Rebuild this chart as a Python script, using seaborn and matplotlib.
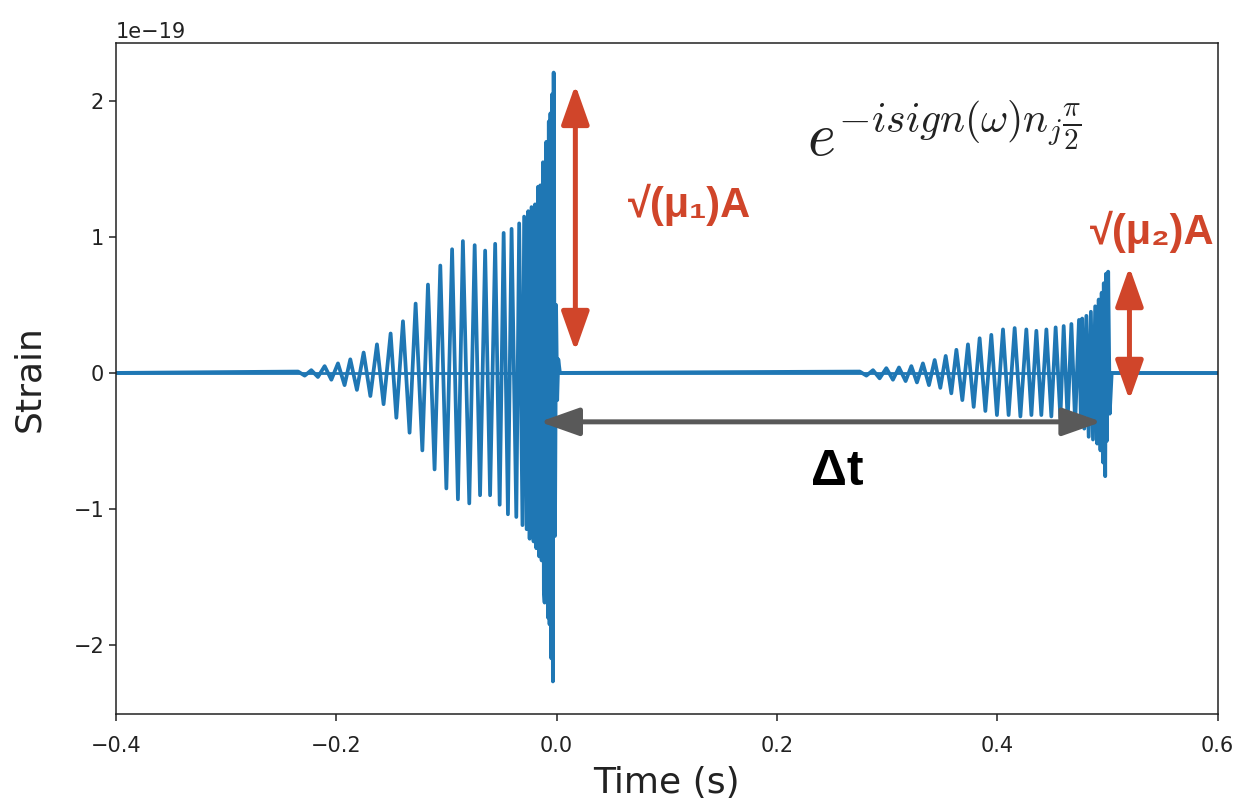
import numpy as np
import pandas as pd
import matplotlib
matplotlib.use("Agg")
import matplotlib.pyplot as plt
import seaborn as sns

# ---------------- data (strain in units of 1e-19) ----------------
# first (stronger) image: alternating extrema of the chirp
chirp1_t = [-0.2347, -0.2287, -0.2227, -0.2167, -0.2106, -0.2045, -0.1985, -0.1925, -0.1873,
            -0.1813, -0.1752, -0.1691, -0.1631, -0.1571, -0.1507, -0.1455, -0.1395, -0.1335,
            -0.1280, -0.1219, -0.1168, -0.1108, -0.1056, -0.1001, -0.0949, -0.0896, -0.0851,
            -0.0793, -0.0744, -0.0695, -0.0649, -0.0604, -0.0558, -0.0517, -0.0481, -0.0442,
            -0.0409, -0.0366, -0.0340, -0.0310, -0.0295, -0.0272, -0.0258, -0.0245, -0.0228,
            -0.0209, -0.0196, -0.0184, -0.0168, -0.0158, -0.0148, -0.0136, -0.0124, -0.0116,
            -0.0109, -0.0094, -0.0079, -0.0071, -0.0064, -0.0056, -0.0048, -0.0041, -0.0034,
            -0.0027, -0.0015, -0.0005, 0.0005, 0.0015, 0.0030]
chirp1_h = [0.01, -0.02, 0.02, -0.03, 0.05, -0.05, 0.07, -0.09, 0.10,
            -0.125, 0.15, -0.17, 0.21, -0.23, 0.29, -0.33, 0.38, -0.44,
            0.51, -0.57, 0.65, -0.71, 0.79, -0.85, 0.91, -0.93, 0.97,
            -0.96, 0.94, -0.90, 0.90, -0.90, 0.95, -0.97, 1.03, -1.04,
            1.06, -1.06, 1.10, -1.12, 1.15, -1.15, 1.19, -1.22, 1.22,
            -1.24, 1.24, -1.29, 1.37, -1.35, 1.38, -1.38, 1.55, -1.60,
            -1.69, 1.70, -1.80, 1.85, -1.85, 1.91, -2.10, 2.05, -2.27,
            2.21, -1.20, 0.50, -0.20, 0.10, 0.00]

# second (weaker, delayed, phase-shifted) image
chirp2_t = [0.2752, 0.2812, 0.2872, 0.2932, 0.2993, 0.3053, 0.3108, 0.3168, 0.3220, 0.3271,
            0.3325, 0.3380, 0.3432, 0.3483, 0.3532, 0.3583, 0.3629, 0.3683, 0.3734, 0.3786,
            0.3840, 0.3892, 0.3946, 0.3997, 0.4052, 0.4103, 0.4158, 0.4210, 0.4264, 0.4310,
            0.4355, 0.4400, 0.4446, 0.4491, 0.4530, 0.4573, 0.4603, 0.4639, 0.4673, 0.4707,
            0.4742, 0.4760, 0.4771, 0.4790, 0.4809, 0.4830, 0.4850, 0.4869, 0.4889, 0.4907,
            0.4921, 0.4937, 0.4948, 0.4962, 0.4967, 0.4980, 0.4988, 0.4995, 0.5007, 0.5021,
            0.5039]
chirp2_h = [0.01, -0.02, 0.02, -0.04, 0.035, -0.05, 0.04, -0.06, 0.05, -0.07,
            0.07, -0.09, 0.095, -0.11, 0.125, -0.15, 0.17, -0.20, 0.21, -0.25,
            0.255, -0.28, 0.28, -0.31, 0.32, -0.31, 0.33, -0.32, 0.32, -0.31,
            0.31, -0.31, 0.32, -0.32, 0.335, -0.33, 0.345, -0.35, 0.36, -0.37,
            0.39, -0.39, 0.40, -0.41, 0.42, -0.47, 0.45, -0.49, 0.49, -0.52,
            0.54, -0.57, 0.59, -0.66, 0.66, -0.76, 0.73, -0.50, 0.745, -0.30,
            0.00]

t_start, t_end = -0.4, 0.6
scale = 1e-19

xticks = [-0.4, -0.2, 0.0, 0.2, 0.4, 0.6]
yticks = [-2, -1, 0, 1, 2]

# annotation anchors (data coordinates, strain in 1e-19)
arrow1_x, arrow1_y = 0.017, (0.16, 2.12)
arrow2_x, arrow2_y = 0.520, (-0.20, 0.78)
dt_y, dt_x = -0.36, (-0.0154, 0.4948)

# ---------------- build series ----------------
t_all = [t_start] + chirp1_t + chirp2_t + [t_end]
h_all = [0.0] + chirp1_h + chirp2_h + [0.0]
df = pd.DataFrame({"Time (s)": t_all, "Strain": np.array(h_all) * scale})
base = pd.DataFrame({"Time (s)": [t_start, t_end], "Strain": [0.0, 0.0]})

# ---------------- plot ----------------
sns.set_theme(style="ticks")
plt.rcParams["font.family"] = ["DejaVu Sans"]

fig = plt.figure(figsize=(12.38, 8.05), dpi=100)
ax = fig.add_axes([0.0937, 0.113, 0.8898, 0.834])

blue = "#1f77b4"
red = "#D0452A"
gray = "#595959"

sns.lineplot(data=base, x="Time (s)", y="Strain", ax=ax, color=blue, lw=2.0, estimator=None)
sns.lineplot(data=df, x="Time (s)", y="Strain", ax=ax, color=blue, lw=2.7,
             estimator=None, sort=False, solid_joinstyle="round")

ax.set_xlim(t_start, t_end)
ax.set_ylim(-2.51e-19, 2.43e-19)
ax.set_xticks(xticks)
ax.set_yticks([v * scale for v in yticks])
ax.tick_params(labelsize=15, length=5, width=1.1, color="#222222", labelcolor="#222222")
ax.tick_params(axis="x", pad=11)
ax.yaxis.get_offset_text().set_fontsize(15)
ax.set_xlabel("Time (s)", fontsize=26, color="#222222", labelpad=7)
ax.set_ylabel("Strain", fontsize=26, color="#222222", labelpad=20)
for s in ax.spines.values():
    s.set_color("#222222")
    s.set_linewidth(1.1)

def double_arrow(x0, y0, x1, y1, color):
    ax.annotate("", xy=(x1, y1), xytext=(x0, y0),
                arrowprops=dict(arrowstyle="<|-|>,head_length=2.4,head_width=0.85",
                                mutation_scale=10, color=color, lw=3.6,
                                shrinkA=0, shrinkB=0))

double_arrow(arrow1_x, arrow1_y[0] * scale, arrow1_x, arrow1_y[1] * scale, red)
double_arrow(arrow2_x, arrow2_y[0] * scale, arrow2_x, arrow2_y[1] * scale, red)
double_arrow(dt_x[0], dt_y * scale, dt_x[1], dt_y * scale, gray)

ax.text(0.121, 1.235e-19, "√(μ₁)A", color=red, fontsize=30, fontweight="bold",
        family=["Liberation Sans", "DejaVu Sans"], ha="center", va="center")
ax.text(0.541, 1.04e-19, "√(μ₂)A", color=red, fontsize=30, fontweight="bold",
        family=["Liberation Sans", "DejaVu Sans"], ha="center", va="center")
ax.text(0.255, -0.73e-19, "Δt", color="black", fontsize=36, fontweight="bold",
        family=["Liberation Sans", "DejaVu Sans"], ha="center", va="center")
ax.text(0.352, 1.72e-19, r"$e^{-isign(\omega)n_j\frac{\pi}{2}}$", color="#222222",
        fontsize=43, math_fontfamily="cm", ha="center", va="center")

fig.savefig("out.png", dpi=100)
